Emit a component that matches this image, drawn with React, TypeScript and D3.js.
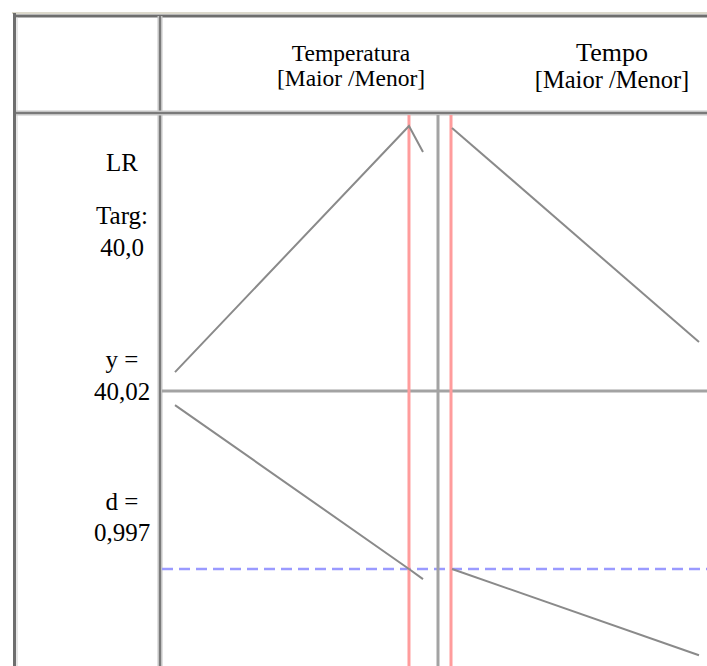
import React from "react";
import * as d3 from "d3";

// ---- data ----
const factorNames = ["Temperatura", "Tempo"];
const factorSubtitles = ["[Maior /Menor]", "[Maior /Menor]"];
const factorOptimum = [0.887, -1.0]; // coded units (red line)

// LR response vs factor (coded units)
const tempX = [-1, 0.887, 1];
const tempLR = [40.09, 41.0, 40.904];
const tempoX = [-1, 1];
const tempoLR = [40.993, 40.201];

// composite desirability vs factor
const tempD = [0.99991, 0.997, 0.99682];
const tempoD = [0.997, 0.99547];

const responseLabels = ["LR"];
const targetLabel = ["Targ:", "40,0"];
const yLabel = ["y =", "40,02"];
const dLabel = ["d =", "0,997"];
const yCurrent = 40.02;
const dCurrent = 0.997;

const W = 707;
const H = 666;

export default function App() {
  const serif = "'Liberation Serif', 'Times New Roman', serif";
  const divX = 160;
  const headerY = 113;
  const midX = 438;

  const xScales = [
    d3.scaleLinear().domain([-1, 1]).range([175, 423]),
    d3.scaleLinear().domain([-1, 1]).range([452, 699]),
  ];
  const yLR = d3.scaleLinear().domain([yCurrent, 41.0]).range([391, 126]);
  const yD = d3.scaleLinear().domain([dCurrent, 1.0]).range([569, 400]);

  const lrSeries = [
    { xs: tempX, ys: tempLR },
    { xs: tempoX, ys: tempoLR },
  ];
  const dSeries = [
    { xs: tempX, ys: tempD },
    { xs: tempoX, ys: tempoD },
  ];

  const mkLine = (i: number, ys: (v: number) => number) =>
    d3
      .line<[number, number]>()
      .x((p) => xScales[i](p[0]))
      .y((p) => ys(p[1]));

  const headerCenters = [351, 612];
  const titleSizes = [23.5, 26];
  const titleY = [61, 61];
  const subSizes = [23.5, 24.5];
  const subY = [86, 88];

  return (
    <div style={{ position: "fixed", left: 0, top: 0 }}>
      <svg width={W} height={H} style={{ display: "block", background: "#fff" }}>
        {/* frame */}
        <rect x={0} y={0} width={W} height={H} fill="#fff" />
        <line x1={12} x2={W} y1={13} y2={13} stroke="#dcd9cc" strokeWidth={2} />
        <line x1={14} x2={W} y1={16} y2={16} stroke="#6e6e6e" strokeWidth={3} />
        <line x1={14.5} x2={14.5} y1={13} y2={H} stroke="#6e6e6e" strokeWidth={3} />
        <line x1={17} x2={17} y1={17} y2={H} stroke="#cfcfcf" strokeWidth={1} />
        {/* header divider */}
        <line x1={divX} x2={divX} y1={16} y2={H} stroke="#c4c4c4" strokeWidth={5} />
        <line x1={divX} x2={divX} y1={16} y2={H} stroke="#7a7a7a" strokeWidth={2} />
        <line x1={divX} x2={W} y1={headerY} y2={headerY} stroke="#c4c4c4" strokeWidth={5} />
        <line x1={divX} x2={W} y1={headerY} y2={headerY} stroke="#7a7a7a" strokeWidth={2} />
        <line x1={16} x2={divX} y1={headerY} y2={headerY} stroke="#c4c4c4" strokeWidth={5} />
        <line x1={16} x2={divX} y1={headerY} y2={headerY} stroke="#7a7a7a" strokeWidth={2} />

        {/* header texts */}
        {factorNames.map((n, i) => (
          <g key={n} fontFamily={serif} fill="#000" textAnchor="middle">
            <text x={headerCenters[i]} y={titleY[i]} fontSize={titleSizes[i]}>
              {n}
            </text>
            <text x={headerCenters[i]} y={subY[i]} fontSize={subSizes[i]}>
              {factorSubtitles[i]}
            </text>
          </g>
        ))}

        {/* left labels */}
        <g fontFamily={serif} fontSize={25} fill="#000" textAnchor="middle">
          <text x={122} y={171}>{responseLabels[0]}</text>
          <text x={122} y={224}>{targetLabel[0]}</text>
          <text x={122} y={256}>{targetLabel[1]}</text>
          <text x={122} y={368}>{yLabel[0]}</text>
          <text x={122} y={400}>{yLabel[1]}</text>
          <text x={122} y={510}>{dLabel[0]}</text>
          <text x={122} y={541}>{dLabel[1]}</text>
        </g>

        {/* current y line */}
        <line x1={divX + 2} x2={W} y1={yLR(yCurrent)} y2={yLR(yCurrent)} stroke="#a3a3a3" strokeWidth={3} />
        {/* desirability line */}
        <line
          x1={divX + 2}
          x2={W}
          y1={yD(dCurrent)}
          y2={yD(dCurrent)}
          stroke="#9a9aff"
          strokeWidth={2.5}
          strokeDasharray="11 6"
        />

        {/* middle separator */}
        <line x1={midX} x2={midX} y1={headerY + 2} y2={H} stroke="#a3a3a3" strokeWidth={3} />

        {/* optimum red lines */}
        {factorOptimum.map((o, i) => (
          <line
            key={i}
            x1={xScales[i](o) + (i === 1 ? -1 : 0)}
            x2={xScales[i](o) + (i === 1 ? -1 : 0)}
            y1={headerY + 2}
            y2={H}
            stroke="#ff9c9c"
            strokeWidth={3}
          />
        ))}

        {/* curves */}
        {lrSeries.map((s, i) => (
          <path
            key={"lr" + i}
            d={mkLine(i, yLR)(s.xs.map((x, j) => [x, s.ys[j]] as [number, number])) || ""}
            fill="none"
            stroke="#8a8a8a"
            strokeWidth={2}
          />
        ))}
        {dSeries.map((s, i) => (
          <path
            key={"d" + i}
            d={mkLine(i, yD)(s.xs.map((x, j) => [x, s.ys[j]] as [number, number])) || ""}
            fill="none"
            stroke="#8a8a8a"
            strokeWidth={2}
          />
        ))}
      </svg>
    </div>
  );
}
